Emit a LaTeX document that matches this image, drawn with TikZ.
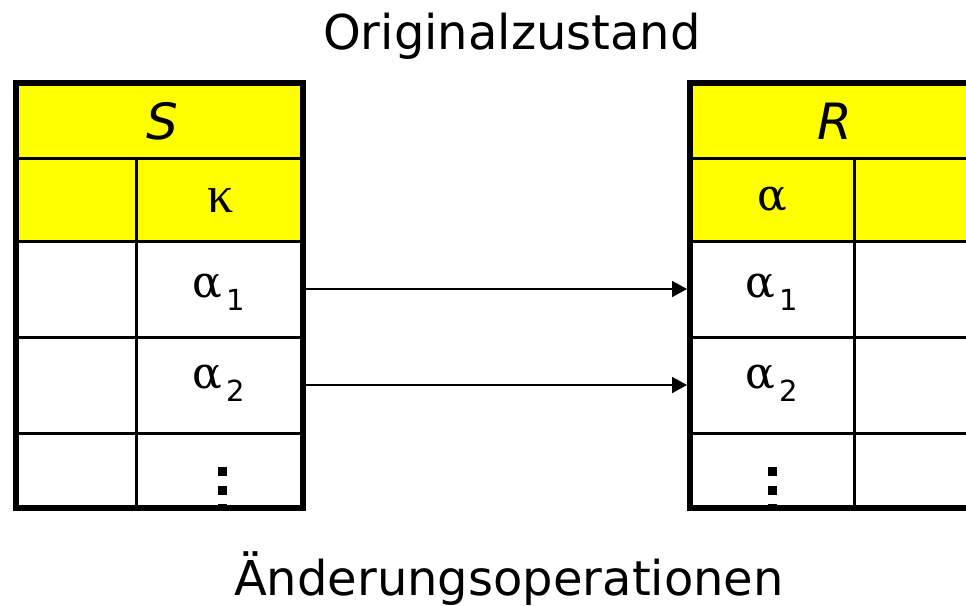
\documentclass[tikz,border=0pt]{standalone}
\usepackage{fontspec}
\setmainfont{DejaVu Sans}
\newfontfamily\greekfont{DejaVu Serif}
\newfontfamily\kappafont{Liberation Serif}
\usetikzlibrary{arrows.meta}
\definecolor{hdryellow}{RGB}{255,255,0}
\newcommand\grk[1]{{\greekfont\fontsize{44}{44}\selectfont #1}}
\newcommand\gsub[2]{\grk{#1}\kern4pt\raisebox{-13pt}{\fontsize{29}{29}\selectfont #2}}
\tikzset{
  cell/.style={draw, line width=3pt, rectangle, inner sep=0pt, outer sep=0pt},
  hdr/.style={cell, fill=hdryellow},
  frame/.style={draw, line width=6pt},
  link/.style={-{Triangle[length=15pt,width=16pt]}, line width=2pt, shorten >=3pt, shorten <=3pt},
  caption/.style={anchor=base, font=\fontsize{48}{58}\selectfont},
  tname/.style={anchor=base, font=\itshape\fontsize{50}{60}\selectfont},
  entry/.style={anchor=base, inner sep=0pt},
  dot/.style={fill=black},
}
\begin{document}
\begin{tikzpicture}[x=1pt, y=-1pt]
  \clip (0,0) rectangle (966,605);
  \fill[white] (0,0) rectangle (966,605);

  % captions
  \node[caption] (top) at (512,49) {Originalzustand};
  \node[caption] (bottom) at (509,595) {Änderungsoperationen};

  % table S
  \node[hdr, minimum width=287pt, minimum height=75pt] (S) at (159.5,120.5) {};
  \node[hdr, minimum width=120pt, minimum height=83pt] (S0a) at (76,199.5) {};
  \node[hdr, minimum width=167pt, minimum height=83pt] (S0b) at (219.5,199.5) {};
  \node[cell, minimum width=120pt, minimum height=96pt] (S1a) at (76,289) {};
  \node[cell, minimum width=167pt, minimum height=96pt] (S1b) at (219.5,289) {};
  \node[cell, minimum width=120pt, minimum height=96pt] (S2a) at (76,385) {};
  \node[cell, minimum width=167pt, minimum height=96pt] (S2b) at (219.5,385) {};
  \node[cell, minimum width=120pt, minimum height=75pt] (S3a) at (76,470.5) {};
  \node[cell, minimum width=167pt, minimum height=75pt] (S3b) at (219.5,470.5) {};

  % table R
  \node[hdr, minimum width=285pt, minimum height=75pt] (R) at (832.5,120.5) {};
  \node[hdr, minimum width=164pt, minimum height=83pt] (R0a) at (772,199.5) {};
  \node[hdr, minimum width=121pt, minimum height=83pt] (R0b) at (914.5,199.5) {};
  \node[cell, minimum width=164pt, minimum height=96pt] (R1a) at (772,289) {};
  \node[cell, minimum width=121pt, minimum height=96pt] (R1b) at (914.5,289) {};
  \node[cell, minimum width=164pt, minimum height=96pt] (R2a) at (772,385) {};
  \node[cell, minimum width=121pt, minimum height=96pt] (R2b) at (914.5,385) {};
  \node[cell, minimum width=164pt, minimum height=75pt] (R3a) at (772,470.5) {};
  \node[cell, minimum width=121pt, minimum height=75pt] (R3b) at (914.5,470.5) {};

  % cell contents
  \node[tname] (Sname) at (162,139) {S};
  \node[tname] (Rname) at (835,139) {R};
  \node[entry] (kappa) at (221,212) {{\kappafont\fontsize{52}{52}\selectfont κ}};
  \node[entry] (alpha) at (772,210) {\grk{α}};
  \node[entry] (Sa1) at (219,297) {\gsub{α}{1}};
  \node[entry] (Sa2) at (219,388) {\gsub{α}{2}};
  \node[entry] (Ra1) at (772,297) {\gsub{α}{1}};
  \node[entry] (Ra2) at (772,388) {\gsub{α}{2}};

  % vertical dots, the last one mostly hidden under the frame
  \foreach \c/\dx in {S3b/3, R3b/-142} {
    \foreach \dy/\h in {-3.5/9, 15/9, 33.5/4}
      \fill[dot] ([shift={(\dx-4.5,\dy)}]\c.center) rectangle ++(9,\h);
  }

  % references
  \draw[link] (S1b.east) -- (R1a.west);
  \draw[link] (S2b.east) -- (R2a.west);

  % outer frames
  \draw[frame] (S.north west) rectangle (S3b.south east);
  \draw[frame] (R.north west) rectangle (R3b.south east);
\end{tikzpicture}
\end{document}
